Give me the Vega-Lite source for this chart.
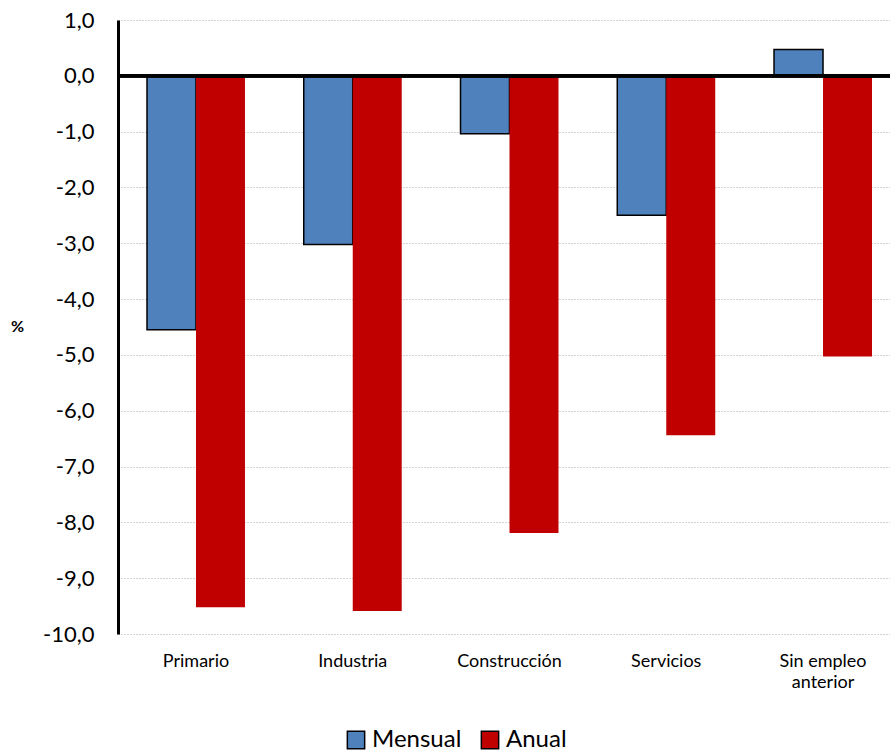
{
  "$schema": "https://vega.github.io/schema/vega-lite/v6.json",
  "autosize": "none",
  "width": 783,
  "height": 614,
  "padding": {"left": 118, "top": 20, "right": 0, "bottom": 120},
  "config": {
    "view": {"stroke": null},
    "font": "Lato"
  },
  "data": {
    "values": [
      {"sector": "Primario", "serie": "Mensual", "valor": -4.55},
      {"sector": "Primario", "serie": "Anual", "valor": -9.52},
      {"sector": "Industria", "serie": "Mensual", "valor": -3.02},
      {"sector": "Industria", "serie": "Anual", "valor": -9.59},
      {"sector": "Construcción", "serie": "Mensual", "valor": -1.04},
      {"sector": "Construcción", "serie": "Anual", "valor": -8.19},
      {"sector": "Servicios", "serie": "Mensual", "valor": -2.50},
      {"sector": "Servicios", "serie": "Anual", "valor": -6.44},
      {"sector": "Sin empleo anterior", "serie": "Mensual", "valor": 0.47},
      {"sector": "Sin empleo anterior", "serie": "Anual", "valor": -5.03}
    ]
  },
  "layer": [
    {
      "mark": {"type": "bar"},
      "encoding": {
        "x": {
          "field": "sector",
          "type": "nominal",
          "sort": ["Primario", "Industria", "Construcción", "Servicios", "Sin empleo anterior"],
          "scale": {"paddingInner": 0.375, "paddingOuter": 0.185},
          "axis": {
            "title": null,
            "domain": false,
            "ticks": false,
            "labelAngle": 0,
            "labelFontSize": 18,
            "labelColor": "#000",
            "labelPadding": 18,
            "labelLineHeight": 21,
            "labelExpr": "datum.label == 'Sin empleo anterior' ? ['Sin empleo', 'anterior'] : datum.label"
          }
        },
        "xOffset": {
          "field": "serie",
          "type": "nominal",
          "sort": ["Mensual", "Anual"],
          "scale": {"paddingInner": 0, "paddingOuter": 0}
        },
        "y": {
          "field": "valor",
          "type": "quantitative",
          "scale": {"domain": [-10, 1], "nice": false},
          "axis": {
            "title": "%",
            "titleAngle": 0,
            "titleFontSize": 16,
            "titleFontWeight": "bold",
            "titleX": -101,
            "titleY": 314,
            "titleColor": "#000",
            "values": [1, 0, -1, -2, -3, -4, -5, -6, -7, -8, -9, -10],
            "labelExpr": "datum.value + ',0'",
            "labelFontSize": 22,
            "labelColor": "#000",
            "labelPadding": 24,
            "ticks": false,
            "domainColor": "#000",
            "domainWidth": 3,
            "gridColor": "#a6a6a6",
            "gridDash": [1, 2],
            "gridWidth": 1
          }
        },
        "color": {
          "field": "serie",
          "type": "nominal",
          "sort": ["Mensual", "Anual"],
          "scale": {"domain": ["Mensual", "Anual"], "range": ["#4f81bd", "#c00000"]},
          "legend": {
            "title": null,
            "orient": "none",
            "direction": "horizontal",
            "legendX": 226,
            "legendY": 708,
            "symbolType": "square",
            "symbolSize": 300,
            "symbolStrokeColor": "#000",
            "symbolStrokeWidth": 1.5,
            "labelFontSize": 24,
            "labelColor": "#000",
            "labelOffset": 4,
            "columnPadding": 16
          }
        },
        "stroke": {
          "condition": {"test": "datum.serie == 'Mensual'", "value": "#000"},
          "value": null
        },
        "strokeWidth": {"value": 1.5}
      }
    },
    {
      "mark": {"type": "rule", "color": "#000", "strokeWidth": 3},
      "encoding": {"y": {"datum": 0}}
    }
  ]
}
